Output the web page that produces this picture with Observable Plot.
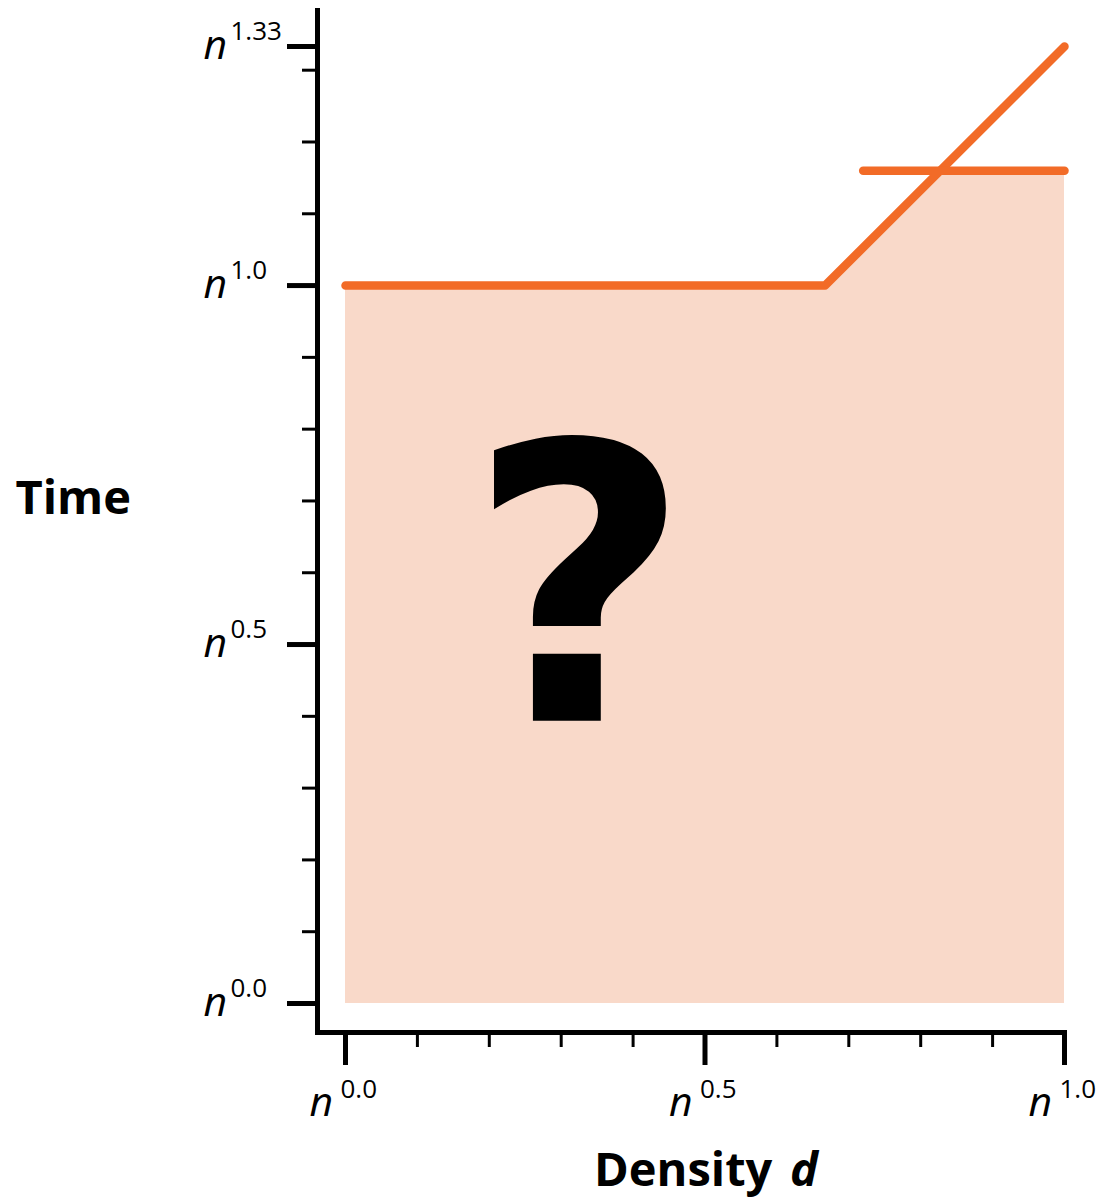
<!DOCTYPE html>
<html>
<head>
<meta charset="utf-8">
<script src="https://cdn.jsdelivr.net/npm/d3@7"></script>
<script src="https://cdn.jsdelivr.net/npm/@observablehq/plot@0.6"></script>
<style>
  body { margin: 0; background: #fff; }
</style>
</head>
<body>
<div id="chart"></div>
<script>
// Axis ticks, as exponents of n
const xMajor = [0, 0.5, 1];
const xMajorLabels = ["0.0", "0.5", "1.0"];
const xMinor = [0.1, 0.2, 0.3, 0.4, 0.6, 0.7, 0.8, 0.9];
const yMajor = [0, 0.5, 1, 1.333];
const yMajorLabels = ["0.0", "0.5", "1.0", "1.33"];
const yMinor = [0.1, 0.2, 0.3, 0.4, 0.6, 0.7, 0.8, 0.9, 1.1, 1.2, 1.3];

// Known bound: flat at n^1.0, then rising to n^1.33
const boundD = [0, 0.667, 1];
const boundT = [1, 1, 1.333];
// Second bound for dense graphs
const flatD = [0.72, 1];
const flatT = [1.16, 1.16];
// Open region below the best known bounds
const regionD = [0, 0.667, 0.827, 1];
const regionT = [1, 1, 1.16, 1.16];
// Question mark placed inside the open region
const markD = [0.325];
const markT = [0.394];
const markText = ["?"];

const orange = "#F26B27";
const peach = "#F9D9C9";
const font = "'Open Sans', sans-serif";

const bound = boundD.map((d, i) => ({d, t: boundT[i]}));
const flat = flatD.map((d, i) => ({d, t: flatT[i]}));
const region = regionD.map((d, i) => ({d, t: regionT[i]}));
const mark = markD.map((d, i) => ({d, t: markT[i], s: markText[i]}));
const xTicks = xMajor.map((v, i) => ({v, s: xMajorLabels[i]}));
const yTicks = yMajor.map((v, i) => ({v, s: yMajorLabels[i]}));

const chart = Plot.plot({
  width: 1101,
  height: 1201,
  marginLeft: 317,
  marginRight: 37,
  marginTop: 10,
  marginBottom: 169,
  style: {background: "#fff", fontFamily: font, color: "#000"},
  x: {domain: [0, 1], insetLeft: 28, axis: null},
  y: {domain: [0, 1.333], insetTop: 36, insetBottom: 29, axis: null},
  marks: [
    Plot.areaY(region, {x: "d", y1: 0, y2: "t", fill: peach}),
    Plot.line(bound, {x: "d", y: "t", stroke: orange, strokeWidth: 8.5, strokeLinecap: "round", strokeLinejoin: "round"}),
    Plot.line(flat, {x: "d", y: "t", stroke: orange, strokeWidth: 8.5, strokeLinecap: "round"}),
    Plot.text(mark, {x: "d", y: "t", text: "s", fontFamily: "'DejaVu Sans', sans-serif", fontWeight: "bold", fontSize: 385, textAnchor: "middle", lineAnchor: "bottom", fill: "#000"}),

    // axis lines
    Plot.frame({anchor: "left", stroke: "#000", strokeWidth: 5, strokeLinecap: "square"}),
    Plot.frame({anchor: "bottom", stroke: "#000", strokeWidth: 5, strokeLinecap: "square"}),

    // ticks
    Plot.axisY(yMajor, {anchor: "left", tickSize: 30, strokeWidth: 5, tickFormat: () => "", label: null}),
    Plot.axisY(yMinor, {anchor: "left", tickSize: 15, strokeWidth: 3, tickFormat: () => "", label: null}),
    Plot.axisX(xMajor, {anchor: "bottom", tickSize: 33, strokeWidth: 5, tickFormat: () => "", label: null}),
    Plot.axisX(xMinor, {anchor: "bottom", tickSize: 15, strokeWidth: 3, tickFormat: () => "", label: null}),

    // y tick labels: italic n with a raised exponent
    Plot.text(yTicks, {y: "v", text: () => "n", frameAnchor: "left", dx: -114, dy: 12, textAnchor: "start", lineAnchor: "bottom", fontSize: 41, fontStyle: "italic"}),
    Plot.text(yTicks, {y: "v", text: "s", frameAnchor: "left", dx: -87, dy: -7, textAnchor: "start", lineAnchor: "bottom", fontSize: 26}),
    // x tick labels
    Plot.text(xTicks, {x: "v", text: () => "n", frameAnchor: "bottom", dx: -36, dy: 83, textAnchor: "start", lineAnchor: "bottom", fontSize: 41, fontStyle: "italic"}),
    Plot.text(xTicks, {x: "v", text: "s", frameAnchor: "bottom", dx: -5, dy: 65, textAnchor: "start", lineAnchor: "bottom", fontSize: 26}),

    // axis titles
    Plot.text(["Time"], {frameAnchor: "left", dx: -302, dy: -8, textAnchor: "start", lineAnchor: "bottom", fontSize: 47, fontWeight: "bold"}),
    Plot.text(["Density"], {frameAnchor: "bottom", dx: -97, dy: 153, textAnchor: "start", lineAnchor: "bottom", fontSize: 47, fontWeight: "bold"}),
    Plot.text(["d"], {frameAnchor: "bottom", dx: 127, dy: 153, textAnchor: "end", lineAnchor: "bottom", fontSize: 47, fontWeight: "bold", fontStyle: "italic"})
  ]
});

document.getElementById("chart").appendChild(chart);
</script>
</body>
</html>
